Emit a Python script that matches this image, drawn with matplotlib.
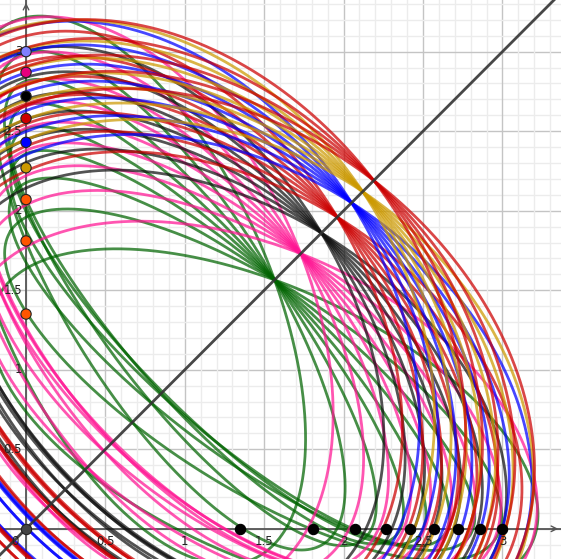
import numpy as np
import matplotlib.pyplot as plt

# ellipses given by two foci, one on each axis, and one point (t, t) on y = x;
# every colour family shares the point on the diagonal
fam_colors = ['#006400', '#ff1493', '#111111', '#cc0000', '#0000ff', '#cc9900', '#cc0000']
fam_t = [1.565, 1.73, 1.86, 1.96, 2.05, 2.12, 2.19]
fam_scale = [1.0, 0.94, 0.89, 0.89, 0.866, 0.80, 0.87]   # foci scaled per family
fam_first = [0, 0, 1, 1, 1, 1, 2]                          # pairs used: first..last
fam_last = [8, 8, 7, 7, 7, 7, 6]

# foci heights on the y axis and positions on the x axis, paired by index
focus_y = [3.0, 2.87, 2.72, 2.58, 2.43, 2.27, 2.07, 1.81, 1.35]
focus_x = [1.35, 1.81, 2.07, 2.27, 2.42, 2.57, 2.72, 2.86, 3.0]

# points sitting on the axes
y_pts = [3.0, 2.87, 2.72, 2.58, 2.43, 2.27, 2.07, 1.81, 1.35]
y_pt_colors = ['#7f7fff', '#e6007e', '#000000', '#cc0000', '#0000ff', '#cc9900',
               '#ff5500', '#ff5500', '#ff5500']
x_pts = [1.35, 1.81, 2.07, 2.27, 2.42, 2.57, 2.72, 2.86, 3.0]

tick_vals = [0.5, 1, 1.5, 2, 2.5, 3]
tick_text = ['0.5', '1', '1.5', '2', '2.5', '3']

fig = plt.figure(figsize=(5.61, 5.59), dpi=100)
ax = fig.add_axes([0, 0, 1, 1])
ax.set_xlim(-0.164, 3.369)
ax.set_ylim(-0.19, 3.325)
ax.axis('off')

# grid: fine every 0.1, strong every 0.5
for v in np.arange(-0.1, 3.45, 0.1):
    strong = abs(v / 0.5 - round(v / 0.5)) < 1e-6
    c = '#c4c4c4' if strong else '#ececec'
    ax.axvline(v, color=c, lw=1.0, zorder=0)
    ax.axhline(v, color=c, lw=1.0, zorder=0)

s = np.linspace(0, 2 * np.pi, 700)
for k, (col, t) in enumerate(zip(fam_colors, fam_t)):
    p = np.array([t, t])
    for i in range(fam_first[k], fam_last[k] + 1):
        f1 = np.array([0.0, focus_y[i] * fam_scale[k]])
        f2 = np.array([focus_x[i] * fam_scale[k], 0.0])
        a = (np.linalg.norm(p - f1) + np.linalg.norm(p - f2)) / 2
        c = np.linalg.norm(f1 - f2) / 2
        b = np.sqrt(a * a - c * c)
        m = (f1 + f2) / 2
        ang = np.arctan2(f1[1] - f2[1], f1[0] - f2[0])
        ex = a * np.cos(s)
        ey = b * np.sin(s)
        x = m[0] + ex * np.cos(ang) - ey * np.sin(ang)
        y = m[1] + ex * np.sin(ang) + ey * np.cos(ang)
        ax.plot(x, y, color=col, lw=2.0, alpha=0.72, zorder=2)

# line y = x
ax.axline((0, 0), (1, 1), color='#333333', lw=2.0, alpha=0.9, zorder=3)

# axes with arrow heads
ax.axhline(0, color='#555555', lw=1.3, zorder=1)
ax.axvline(0, color='#555555', lw=1.3, zorder=1)
ax.annotate('', xy=(3.369, 0), xytext=(3.30, 0),
            arrowprops=dict(arrowstyle='->', color='#555555', lw=1.0))
ax.annotate('', xy=(0, 3.325), xytext=(0, 3.26),
            arrowprops=dict(arrowstyle='->', color='#555555', lw=1.0))

for v, txt in zip(tick_vals, tick_text):
    ax.text(v, -0.04, txt, ha='center', va='top', fontsize=8.5, color='#222222', zorder=4)
    ax.text(-0.025, v, txt, ha='right', va='center', fontsize=8.5, color='#222222', zorder=4)
ax.text(-0.045, -0.04, '0', ha='right', va='top', fontsize=8.5, color='#222222', zorder=4)

ax.scatter([0] * len(y_pts), y_pts, s=55, c=y_pt_colors, edgecolors='#222222',
           linewidths=0.8, zorder=5)
ax.scatter(x_pts, [0] * len(x_pts), s=55, c='black', edgecolors='black',
           linewidths=0.8, zorder=5)
ax.scatter([0], [0], s=55, c='#444444', edgecolors='#222222', linewidths=0.8, zorder=5)

fig.savefig('out.png', dpi=100)
